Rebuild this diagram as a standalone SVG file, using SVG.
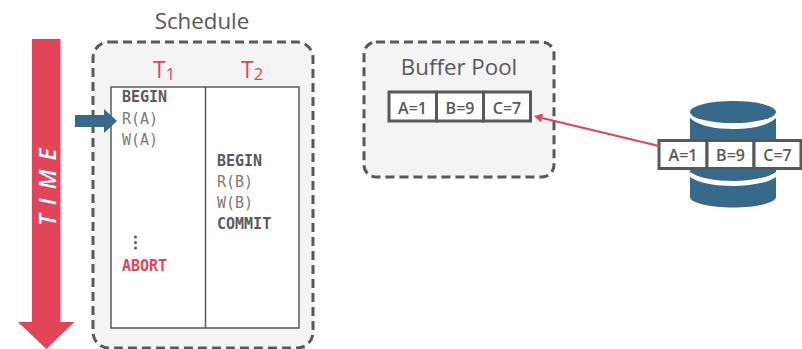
<svg xmlns="http://www.w3.org/2000/svg" width="802" height="349" viewBox="0 0 802 349">
<style>
.dash{fill:#f4f4f4;stroke:#595959;stroke-width:3;stroke-dasharray:9 5}
.title{font-family:"Open Sans",sans-serif;font-size:22.300px;fill:#595959;text-anchor:middle}
.t{font-family:"Open Sans",sans-serif;font-size:23px;font-weight:500;fill:#e2455a}
.sub{font-size:16.500px}
.mono{font-family:"DejaVu Sans Mono",monospace;font-size:15px;fill:#7a7a7a}
.b{font-weight:bold;fill:#595959}
.cell{fill:#fff;stroke:#595959;stroke-width:3}
.val{font-family:"Open Sans",sans-serif;font-size:16px;font-weight:600;fill:#595959;text-anchor:middle}
.blue{fill:#36698a}
</style>
<g id="time">
<path d="M32 39H60.500V322H74.500L46.300 349L18 322H32Z" fill="#e2455a"/>
<text transform="translate(55.500 226) rotate(-90)" font-family="Open Sans,sans-serif" font-size="23" font-weight="600" font-style="italic" fill="#fff" letter-spacing="9">TIME</text>
</g>
<g id="schedule">
<text class="title" x="202" y="29">Schedule</text>
<rect class="dash" x="93" y="42" width="220" height="306" rx="16"/>
<text class="t" x="153" y="77.500">T<tspan class="sub" dy="2.500">1</tspan></text>
<text class="t" x="241" y="77.500">T<tspan class="sub" dy="2.500">2</tspan></text>
<rect x="111" y="87" width="188" height="241" fill="#fff" stroke="#595959" stroke-width="1.500"/>
<path d="M205.500 87V328" stroke="#595959" stroke-width="1.500"/>
<text class="mono b" x="122" y="102">BEGIN</text>
<text class="mono" x="122" y="124">R(A)</text>
<text class="mono" x="122" y="145">W(A)</text>
<text class="mono b" x="217" y="166">BEGIN</text>
<text class="mono" x="217" y="187">R(B)</text>
<text class="mono" x="217" y="208">W(B)</text>
<text class="mono b" x="217" y="229">COMMIT</text>
<g fill="#595959"><circle cx="135.500" cy="237" r="1.500"/><circle cx="135.500" cy="242.500" r="1.500"/><circle cx="135.500" cy="248" r="1.500"/></g>
<text class="mono b" x="122" y="271" style="fill:#e2455a">ABORT</text>
</g>
<g id="cursor"><path class="blue" d="M75 115H104V109L117 121L104 133V127H75Z"/></g>
<g id="buffer-pool">
<rect class="dash" x="364" y="42" width="190" height="135" rx="12"/>
<text class="title" x="459" y="75">Buffer Pool</text>
<rect class="cell" x="389" y="92" width="47.500" height="29"/>
<rect class="cell" x="436.500" y="92" width="47" height="29"/>
<rect class="cell" x="483.500" y="92" width="47" height="29"/>
<text class="val" x="412.500" y="113.500">A=1</text>
<text class="val" x="460" y="113.500">B=9</text>
<text class="val" x="507" y="113.500">C=7</text>
</g>
<g id="database">
<ellipse class="blue" cx="733" cy="112" rx="43" ry="11"/>
<path class="blue" d="M690 118C698 126 716 129 733 129S768 126 776 118V142H690Z"/>
<path class="blue" d="M690 166H776V172C768 178 750 181 733 181S698 178 690 172Z"/>
<path class="blue" d="M690 177C698 183 716 186 733 186S768 183 776 177V197C776 203 755 207.500 733 207.500S690 203 690 197Z"/>
<rect class="cell" x="659" y="140.500" width="48" height="28"/>
<rect class="cell" x="707" y="140.500" width="47" height="28"/>
<rect class="cell" x="754" y="140.500" width="47" height="28"/>
<text class="val" x="683" y="161">A=1</text>
<text class="val" x="730.500" y="161">B=9</text>
<text class="val" x="777.500" y="161">C=7</text>
</g>
<g id="connectors">
<path d="M659 146L542 118" stroke="#e2455a" stroke-width="2" fill="none"/>
<path d="M534 116L543 113.500L541 122.500Z" fill="#e2455a"/>
</g>
</svg>
